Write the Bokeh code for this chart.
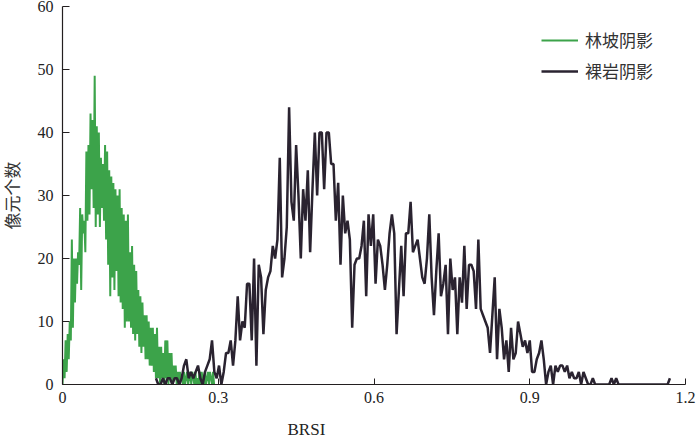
import numpy as np
from bokeh.plotting import figure
from bokeh.models import Range1d, FixedTicker, Legend, LegendItem, Title
from bokeh.embed import file_html
from bokeh.resources import INLINE

# ---- data ----
series_names = ["林坡阴影", "裸岩阴影"]

green_start = 0.0
green_step = 0.002
green_counts = [0, 4, 1, 7, 2, 8, 4, 10, 7, 23,
                9, 20, 13, 20, 16, 21, 19, 28, 15, 27,
                24, 26, 21, 37, 26, 38, 27, 43, 31, 42,
                28, 49, 25, 41, 27, 40, 25, 36, 28, 35,
                26, 38, 23, 37, 19, 34, 14, 33, 17, 32,
                15, 31, 18, 30, 14, 31, 13, 28, 12, 27,
                9, 26, 10, 27, 10, 21, 9, 22, 8, 19,
                7, 18, 8, 15, 6, 14, 5, 13, 6, 11,
                4, 11, 4, 10, 3, 9, 3, 9, 2, 8,
                1, 9, 1, 6, 0, 6, 1, 5, 0, 7,
                1, 7, 0, 5, 1, 5, 0, 3, 1, 3,
                0, 2, 0, 2, 1, 1, 0, 2, 0, 1,
                2, 0, 1, 2, 0, 2, 1, 0, 2, 0,
                1, 0, 2, 0, 2, 1, 0, 2, 0, 1,
                2, 0, 2, 1, 0, 2, 0]

dark_start = 0.18
dark_step = 0.0045
dark_counts = [1, 0, 0, 1, 0, 1, 1, 0, 1, 1,
               0, 1, 3, 4, 1, 2, 1, 2, 3, 1,
               0, 2, 3, 4, 7, 2, 1, 3, 0, 2,
               5, 5, 7, 3, 7, 14, 7, 10, 9, 16,
               16, 7, 20, 3, 19, 17, 8, 15, 17, 18,
               22, 20, 23, 36, 17, 20, 25, 44, 29, 26,
               38, 30, 20, 31, 26, 34, 21, 31, 40, 30,
               40, 40, 31, 40, 40, 35, 35, 26, 32, 19,
               30, 24, 26, 23, 9, 19, 20, 20, 22, 26,
               14, 27, 22, 27, 16, 23, 22, 19, 15, 19,
               24, 27, 24, 8, 15, 22, 14, 24, 24, 29,
               21, 22, 23, 20, 17, 16, 20, 27, 17, 11,
               18, 24, 14, 16, 19, 8, 20, 15, 17, 8,
               17, 13, 22, 12, 19, 19, 18, 12, 23, 12,
               11, 10, 9, 5, 11, 17, 4, 12, 9, 4,
               7, 2, 9, 4, 5, 10, 8, 6, 7, 5,
               7, 2, 2, 4, 5, 7, 4, 0, 2, 3,
               0, 3, 2, 3, 3, 2, 3, 1, 2, 1,
               1, 2, 0, 2, 1, 0, 0, 1, 0, 0,
               0, 0, 0, 0, 0, 1, 0, 1, 0, 0,
               0, 0, 0, 0, 0, 0, 0, 0, 0, 0,
               0, 0, 0, 0, 0, 0, 0, 0, 0, 0,
               1]

x_ticks = [0, 0.3, 0.6, 0.9, 1.2]
x_tick_labels = ["0", "0.3", "0.6", "0.9", "1.2"]
y_ticks = [0, 10, 20, 30, 40, 50, 60]
x_title = "BRSI"
y_title = "像元个数"

green_x = green_start + green_step * np.arange(len(green_counts))
dark_x = dark_start + dark_step * np.arange(len(dark_counts))

GREEN = "#3ca34a"
DARK = "#2a2330"
AXIS = "#231f20"
SERIF = "Liberation Serif"
CJK = "Noto Sans CJK SC"

p = figure(width=706, height=441,
           x_range=Range1d(0, 1.2), y_range=Range1d(0, 60),
           output_backend="svg", toolbar_location=None,
           min_border_left=70, min_border_right=13,
           min_border_top=6, min_border_bottom=57)
p.styles = {"margin-left": "-8px"}
p.outline_line_color = None
p.grid.visible = False
p.background_fill_color = "white"

r1 = p.line(green_x, green_counts, line_color=GREEN, line_width=2)
r2 = p.line(dark_x, dark_counts, line_color=DARK, line_width=2.5)

legend = Legend(items=[LegendItem(label=series_names[0], renderers=[r1]),
                       LegendItem(label=series_names[1], renderers=[r2])],
                location=(479, 301), glyph_width=37, glyph_height=20,
                label_height=20, spacing=6, padding=0, margin=0,
                border_line_color=None, background_fill_alpha=0,
                label_text_font=CJK, label_text_font_size="17px",
                label_standoff=7, label_text_color="#333333")
p.add_layout(legend)

for ax in (p.xaxis[0], p.yaxis[0]):
    ax.axis_line_color = AXIS
    ax.axis_line_width = 1.2
    ax.major_tick_line_color = AXIS
    ax.major_tick_out = 0
    ax.minor_tick_line_color = None
    ax.major_label_text_font = SERIF
    ax.major_label_text_font_size = "16px"
    ax.major_label_text_color = "#222222"

p.xaxis.ticker = FixedTicker(ticks=x_ticks)
p.xaxis.major_label_overrides = dict(zip(x_ticks, x_tick_labels))
p.xaxis.major_tick_in = 6
p.xaxis.major_label_standoff = 7

p.yaxis.ticker = FixedTicker(ticks=y_ticks)
p.yaxis.major_tick_in = 7
p.yaxis.major_label_standoff = 9
p.yaxis.axis_label = y_title
p.yaxis.axis_label_text_font = CJK
p.yaxis.axis_label_text_font_size = "17px"
p.yaxis.axis_label_text_font_style = "normal"
p.yaxis.axis_label_text_color = "#333333"
p.yaxis.axis_label_standoff = 11

spacer = Title(text=" ", standoff=0, text_font_size="9px")
p.add_layout(spacer, "below")

xt = Title(text=x_title, align="left", offset=225, standoff=0,
           text_font=SERIF, text_font_size="17px", text_font_style="normal",
           text_color="#222222")
p.add_layout(xt, "below")

open("out.html", "w").write(file_html(p, INLINE))
